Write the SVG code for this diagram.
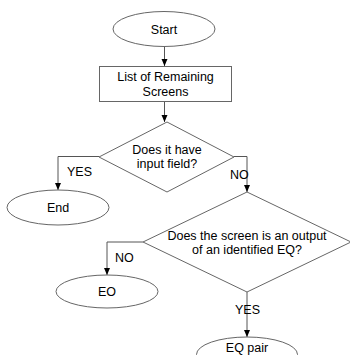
<svg xmlns="http://www.w3.org/2000/svg" width="350" height="355" viewBox="0 0 350 355">
  <defs>
    <marker id="arrow" viewBox="0 0 7 7" refX="7" refY="3.5" markerWidth="7" markerHeight="7" markerUnits="userSpaceOnUse" orient="auto">
      <path d="M0,0.5 L7,3.5 L0,6.5 Z" fill="#000"/>
    </marker>
  </defs>
  <style>
    .shape { fill: #fff; stroke: #666; stroke-width: 1; }
    .edge { fill: none; stroke: #555; stroke-width: 1; marker-end: url(#arrow); }
    text { font-family: "Liberation Sans", Arial, sans-serif; font-size: 12.5px; fill: #000; text-anchor: middle; }
    .lbl { text-anchor: start; }
  </style>
  <rect width="350" height="355" fill="#fff"/>

  <g id="connectors">
    <path class="edge" d="M164.5,47 L164.5,66"/>
    <path class="edge" d="M164.5,102 L164.5,122"/>
    <path class="edge" d="M99,156.5 L58,156.5 L58,190"/>
    <path class="edge" d="M234,156.5 L247,156.5 L247,192"/>
    <path class="edge" d="M143,242 L107,242 L107,275"/>
    <path class="edge" d="M247,292 L247,337"/>
    <text class="lbl" x="67" y="176">YES</text>
    <text class="lbl" x="230" y="179">NO</text>
    <text class="lbl" x="115" y="262">NO</text>
    <text class="lbl" x="235" y="314">YES</text>
  </g>

  <g id="start">
    <ellipse class="shape" cx="164" cy="29" rx="51" ry="17.5"/>
    <text x="164" y="33.5">Start</text>
  </g>

  <g id="list">
    <rect class="shape" x="99.5" y="66.5" width="132" height="35"/>
    <text x="165.5" y="81.3">List of Remaining</text>
    <text x="165.5" y="95.7">Screens</text>
  </g>

  <g id="has-input">
    <path class="shape" d="M167,122 L234,157 L167,192 L99,157 Z"/>
    <text x="167" y="153.5">Does it have</text>
    <text x="167" y="167.9">input field?</text>
  </g>

  <g id="end">
    <ellipse class="shape" cx="58" cy="207.5" rx="51" ry="17.5"/>
    <text x="58" y="212">End</text>
  </g>

  <g id="is-eq-output">
    <path class="shape" d="M247,192 L351,242 L247,292 L143,242 Z"/>
    <text x="247" y="239.5">Does the screen is an output</text>
    <text x="247" y="253.9">of an identified EQ?</text>
  </g>

  <g id="eo">
    <ellipse class="shape" cx="107" cy="291.5" rx="51" ry="16.5"/>
    <text x="107" y="296">EO</text>
  </g>

  <g id="eq-pair">
    <ellipse class="shape" cx="247" cy="354.5" rx="50.5" ry="17.5"/>
    <text x="247" y="351.5">EQ pair</text>
  </g>
</svg>
